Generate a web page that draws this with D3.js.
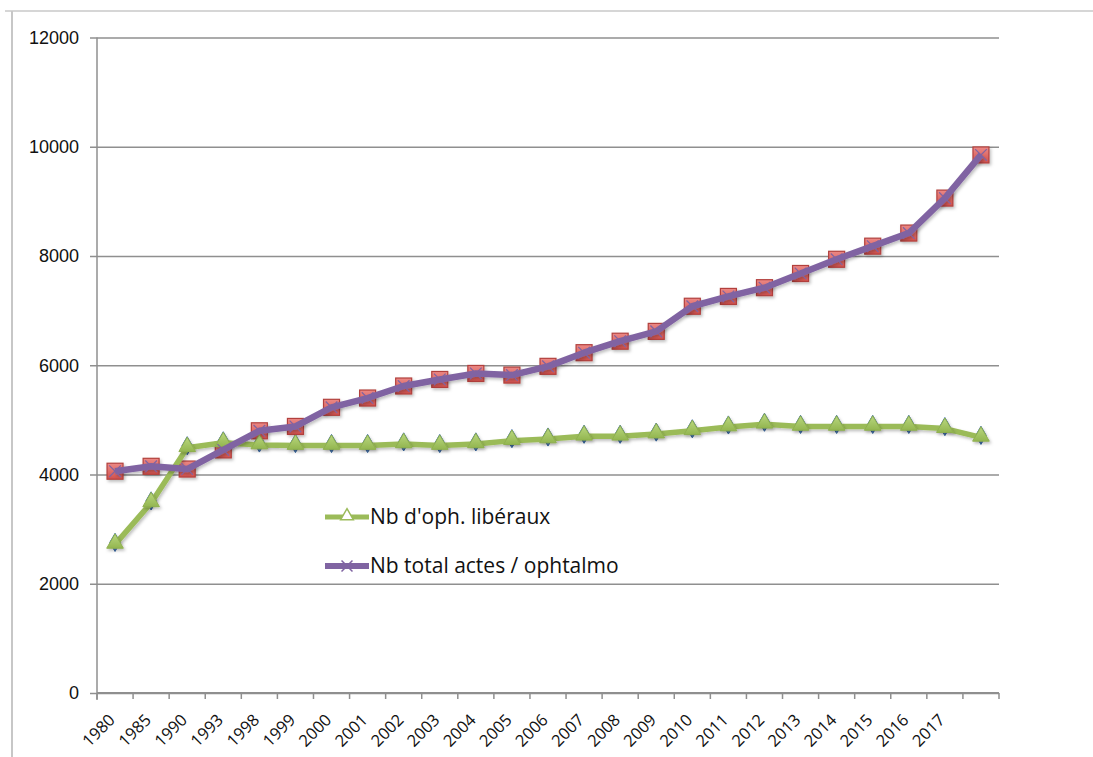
<!DOCTYPE html>
<html>
<head>
<meta charset="utf-8">
<script src="https://cdn.jsdelivr.net/npm/d3@7"></script>
<style>
  body { margin: 0; background: #fff; }
  svg { display: block; font-family: "Open Sans", "Liberation Sans", sans-serif; }
</style>
</head>
<body>
<svg id="chart" width="1093" height="757"></svg>
<script>
// categories (last one has no label in the original chart)
var years = ['1980','1985','1990','1993','1998','1999','2000','2001','2002','2003','2004','2005',
             '2006','2007','2008','2009','2010','2011','2012','2013','2014','2015','2016','2017',''];

// series values
var ophLiberaux = [2720,3480,4490,4580,4540,4530,4530,4530,4560,4530,4560,4620,
                   4650,4700,4700,4740,4800,4870,4920,4880,4880,4880,4880,4840,4680];
var actesParOphtalmo = [4060,4150,4100,4450,4800,4880,5230,5400,5620,5740,5850,5820,
                        5980,6230,6440,6620,7080,7260,7420,7680,7940,8180,8420,9060,9850];

var yTicks = [0,2000,4000,6000,8000,10000,12000];
var legendLabels = ["Nb d'oph. libéraux", "Nb total actes / ophtalmo"];

var W = 1093, H = 757;
var pLeft = 97, pRight = 999, pTop = 37.5, pBottom = 693;

var svg = d3.select('#chart');

// soft shadow, like the office chart
var defs = svg.append('defs');
var f = defs.append('filter').attr('id', 'shadow')
  .attr('x', '-20%').attr('y', '-20%').attr('width', '140%').attr('height', '140%');
f.append('feDropShadow').attr('dx', 1.5).attr('dy', 2).attr('stdDeviation', 1.5)
  .attr('flood-color', '#000').attr('flood-opacity', 0.25);

// marker gradients (lighter on top)
var gr = defs.append('linearGradient').attr('id', 'gRed').attr('x1', 0).attr('x2', 0).attr('y1', 0).attr('y2', 1);
gr.append('stop').attr('offset', '0%').attr('stop-color', '#ec8986');
gr.append('stop').attr('offset', '100%').attr('stop-color', '#d2514d');
var gg = defs.append('linearGradient').attr('id', 'gGreen').attr('x1', 0).attr('x2', 0).attr('y1', 0).attr('y2', 1);
gg.append('stop').attr('offset', '0%').attr('stop-color', '#b9d77f');
gg.append('stop').attr('offset', '100%').attr('stop-color', '#93b650');

// outer frame (partly visible in screenshot)
svg.append('line').attr('x1', 12).attr('x2', 12).attr('y1', 11).attr('y2', H)
  .attr('stroke', '#b5b5b5').attr('stroke-width', 1.5);
svg.append('line').attr('x1', 5).attr('x2', W).attr('y1', 11).attr('y2', 11)
  .attr('stroke', '#c8c8c8').attr('stroke-width', 1.5);

var idx = d3.range(years.length);
var x = d3.scaleBand().domain(idx).range([pLeft, pRight]);
var y = d3.scaleLinear().domain([0, 12000]).range([pBottom, pTop]);
var cx = function(i) { return x(i) + x.bandwidth() / 2; };

// gridlines + y axis labels
var yAxis = d3.axisLeft(y).tickValues(yTicks).tickSize(7).tickPadding(11)
  .tickFormat(d3.format('d'));
var gy = svg.append('g').attr('transform', 'translate(' + pLeft + ',0)').call(yAxis);
gy.select('.domain').remove();
gy.selectAll('.tick line').attr('stroke', '#8f8f8f').attr('stroke-width', 1.5);
gy.selectAll('.tick text').attr('font-size', 18).attr('fill', '#111');
gy.selectAll('.tick').append('line')
  .attr('x1', 0).attr('x2', pRight - pLeft)
  .attr('stroke', '#8f8f8f').attr('stroke-width', 1.5);

// vertical axis line
svg.append('line').attr('x1', pLeft).attr('x2', pLeft).attr('y1', pTop).attr('y2', pBottom + 7)
  .attr('stroke', '#8f8f8f').attr('stroke-width', 1.5);

// x axis: ticks between categories, labels rotated
var gx = svg.append('g');
gx.append('line').attr('x1', pLeft).attr('x2', pRight).attr('y1', pBottom).attr('y2', pBottom)
  .attr('stroke', '#8f8f8f').attr('stroke-width', 2);
gx.selectAll('line.tk').data(idx.concat([years.length])).enter().append('line')
  .attr('class', 'tk')
  .attr('x1', function(i) { return i < years.length ? x(i) : pRight; })
  .attr('x2', function(i) { return i < years.length ? x(i) : pRight; })
  .attr('y1', pBottom).attr('y2', pBottom + 6)
  .attr('stroke', '#8f8f8f').attr('stroke-width', 1.5);
gx.selectAll('text').data(idx).enter().append('text')
  .attr('transform', function(i) { return 'translate(' + (cx(i) + 1) + ',' + (pBottom + 28) + ') rotate(-45)'; })
  .attr('text-anchor', 'end')
  .attr('font-size', 16.5)
  .attr('fill', '#111')
  .text(function(i) { return years[i]; });

var line = d3.line().x(function(d, i) { return cx(i); }).y(function(d) { return y(d); });

var green = '#9bbb59', purple = '#8064a2', blue = '#4f81bd';

// hidden series markers (blue diamonds, red squares)
svg.append('g').selectAll('path').data(ophLiberaux).enter().append('path')
  .attr('d', d3.symbol(d3.symbolDiamond, 95))
  .attr('transform', function(d, i) { return 'translate(' + cx(i) + ',' + (y(d) - 2) + ')'; })
  .attr('fill', blue).attr('stroke', '#3a6aa5').attr('stroke-width', 1);

svg.append('g').attr('filter', 'url(#shadow)').selectAll('rect').data(actesParOphtalmo).enter().append('rect')
  .attr('x', function(d, i) { return cx(i) - 8; })
  .attr('y', function(d) { return y(d) - 8; })
  .attr('width', 16).attr('height', 16)
  .attr('fill', 'url(#gRed)').attr('stroke', '#b2413e').attr('stroke-width', 1.2);

// green series
svg.append('path').datum(ophLiberaux).attr('d', line)
  .attr('fill', 'none').attr('stroke', green).attr('stroke-width', 5.5)
  .attr('stroke-linejoin', 'round').attr('filter', 'url(#shadow)');
svg.append('g').attr('filter', 'url(#shadow)').selectAll('path').data(ophLiberaux).enter().append('path')
  .attr('d', d3.symbol(d3.symbolTriangle, 120))
  .attr('transform', function(d, i) { return 'translate(' + cx(i) + ',' + (y(d) - 1) + ')'; })
  .attr('fill', 'url(#gGreen)').attr('stroke', '#8fb04f').attr('stroke-width', 1);

// purple series
svg.append('path').datum(actesParOphtalmo).attr('d', line)
  .attr('fill', 'none').attr('stroke', purple).attr('stroke-width', 6.5)
  .attr('stroke-linejoin', 'round').attr('filter', 'url(#shadow)');
svg.append('g').selectAll('path').data(actesParOphtalmo).enter().append('path')
  .attr('d', d3.symbol(d3.symbolX, 90))
  .attr('transform', function(d, i) { return 'translate(' + cx(i) + ',' + y(d) + ')'; })
  .attr('fill', 'none').attr('stroke', purple).attr('stroke-width', 1.3);

// legend
var lg = svg.append('g').attr('transform', 'translate(325,0)');
var rows = [{ label: legendLabels[0], color: green, cy: 517, sym: 'tri' },
            { label: legendLabels[1], color: purple, cy: 566, sym: 'x' }];
rows.forEach(function(r) {
  lg.append('line').attr('x1', 0).attr('x2', 44).attr('y1', r.cy).attr('y2', r.cy)
    .attr('stroke', r.color).attr('stroke-width', r.sym === 'tri' ? 5 : 6);
  if (r.sym === 'tri') {
    lg.append('path').attr('d', d3.symbol(d3.symbolTriangle, 70))
      .attr('transform', 'translate(22,' + (r.cy - 1) + ')')
      .attr('fill', '#fff').attr('stroke', r.color).attr('stroke-width', 1.5);
  } else {
    lg.append('path').attr('d', d3.symbol(d3.symbolX, 80))
      .attr('transform', 'translate(22,' + r.cy + ')')
      .attr('fill', 'none').attr('stroke', r.color).attr('stroke-width', 1.5);
  }
  lg.append('text').attr('x', 45).attr('y', r.cy).attr('dy', '0.35em')
    .attr('font-size', 21).attr('fill', '#111').text(r.label);
});
</script>
</body>
</html>
